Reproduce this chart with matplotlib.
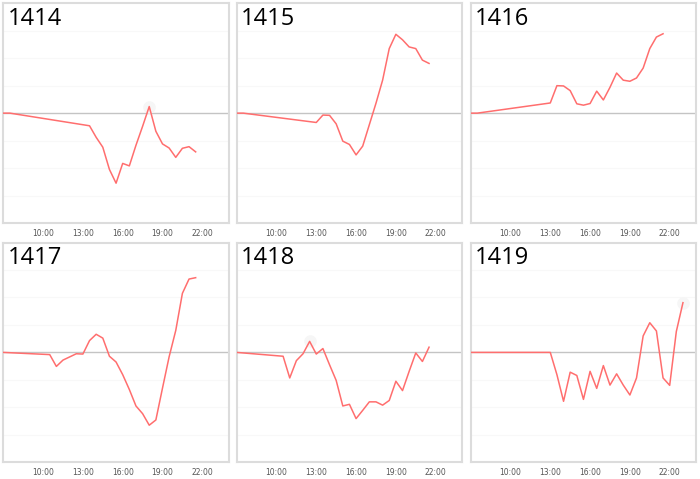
import matplotlib
matplotlib.use("Agg")
import matplotlib.pyplot as plt

# times in hours of day, values per panel
names = ["1414", "1415", "1416", "1417", "1418", "1419"]

t_1414 = [7.0, 7.5, 13.5, 14.0, 14.5, 15.0, 15.5, 16.0, 16.5, 17.0, 17.5, 18.0,
          18.5, 19.0, 19.5, 20.0, 20.5, 21.0, 21.5]
v_1414 = [0, 0, -0.46, -0.88, -1.24, -2.05, -2.55, -1.83, -1.92, -1.17, -0.48, 0.24,
          -0.66, -1.12, -1.27, -1.61, -1.28, -1.22, -1.41]

t_1415 = [7.0, 7.5, 13.0, 13.5, 14.0, 14.5, 15.0, 15.5, 16.0, 16.5, 17.0, 17.5,
          18.0, 18.5, 19.0, 19.5, 20.0, 20.5, 21.0, 21.5]
v_1415 = [0, 0, -0.34, -0.07, -0.08, -0.39, -1.02, -1.14, -1.52, -1.2, -0.42, 0.36,
          1.2, 2.35, 2.87, 2.67, 2.41, 2.35, 1.93, 1.81]

t_1416 = [7.0, 7.5, 13.0, 13.5, 14.0, 14.5, 15.0, 15.5, 16.0, 16.5, 17.0, 17.5,
          18.0, 18.5, 19.0, 19.5, 20.0, 20.5, 21.0, 21.5]
v_1416 = [0, 0, 0.37, 1.0, 0.99, 0.82, 0.34, 0.29, 0.35, 0.8, 0.48, 0.94,
          1.46, 1.2, 1.16, 1.28, 1.64, 2.35, 2.77, 2.89]

t_1417 = [7.0, 10.5, 11.0, 11.5, 12.5, 13.0, 13.5, 14.0, 14.5, 15.0, 15.5, 16.0,
          16.5, 17.0, 17.5, 18.0, 18.5, 19.0, 19.5, 20.0, 20.5, 21.0, 21.5]
v_1417 = [0, -0.08, -0.51, -0.28, -0.05, -0.06, 0.43, 0.66, 0.52, -0.14, -0.35, -0.81,
          -1.35, -1.95, -2.23, -2.65, -2.46, -1.3, -0.16, 0.8, 2.15, 2.67, 2.72]

t_1418 = [7.0, 10.5, 11.0, 11.5, 12.0, 12.5, 13.0, 13.5, 14.0, 14.5, 15.0, 15.5,
          16.0, 16.5, 17.0, 17.5, 18.0, 18.5, 19.0, 19.5, 20.0, 20.5, 21.0, 21.5]
v_1418 = [0, -0.14, -0.93, -0.3, -0.05, 0.4, -0.06, 0.14, -0.45, -1.02, -1.95, -1.89,
          -2.41, -2.11, -1.8, -1.8, -1.92, -1.75, -1.05, -1.39, -0.69, -0.02, -0.33, 0.19]

t_1419 = [7.0, 7.5, 13.0, 13.5, 14.0, 14.5, 15.0, 15.5, 16.0, 16.5, 17.0, 17.5,
          18.0, 18.5, 19.0, 19.5, 20.0, 20.5, 21.0, 21.5, 22.0, 22.5, 23.0]
v_1419 = [0, 0, 0, -0.81, -1.78, -0.72, -0.84, -1.71, -0.69, -1.31, -0.48, -1.19,
          -0.78, -1.19, -1.55, -0.93, 0.6, 1.08, 0.78, -0.93, -1.2, 0.76, 1.81]

times = [t_1414, t_1415, t_1416, t_1417, t_1418, t_1419]
values = [v_1414, v_1415, v_1416, v_1417, v_1418, v_1419]
# faint hover highlight (index into each series, None = none)
hover = [11, None, None, None, 5, 22]

tick_hours = [10, 13, 16, 19, 22]
tick_labels = ["10:00", "13:00", "16:00", "19:00", "22:00"]

fig = plt.figure(figsize=(7.0, 4.79), dpi=100)

lefts = [0.0047, 0.3381, 0.6724]
width = 0.3222
bottoms = [0.5344, 0.0349]
height = 0.4588

for i, name in enumerate(names):
    row, col = divmod(i, 3)
    ax = fig.add_axes([lefts[col], bottoms[row], width, height])
    ax.set_xlim(7, 24)
    ax.set_ylim(-4, 4)

    for g in [-3, -2, -1, 1, 2, 3]:
        ax.axhline(g, color="#f8f8f8", lw=0.8, zorder=0)
    ax.axhline(0, color="#c4c4c4", lw=1.0, zorder=1)

    ax.plot(times[i], values[i], color="#ff6e6e", lw=1.1, zorder=3)
    if hover[i] is not None:
        ax.plot(times[i][hover[i]], values[i][hover[i]], "o", ms=8,
                color="#f6f6f6", zorder=2)

    ax.set_yticks([])
    ax.set_xticks(tick_hours)
    ax.set_xticklabels(tick_labels, fontsize=5.5, color="#555555")
    ax.tick_params(axis="x", length=0, pad=4)
    for s in ax.spines.values():
        s.set_color("#dcdcdc")
        s.set_linewidth(1.5)

    ax.text(0.018, 0.985, name, transform=ax.transAxes, ha="left", va="top",
            fontsize=17, color="black", family="Open Sans")

fig.savefig("out.png", dpi=100)
